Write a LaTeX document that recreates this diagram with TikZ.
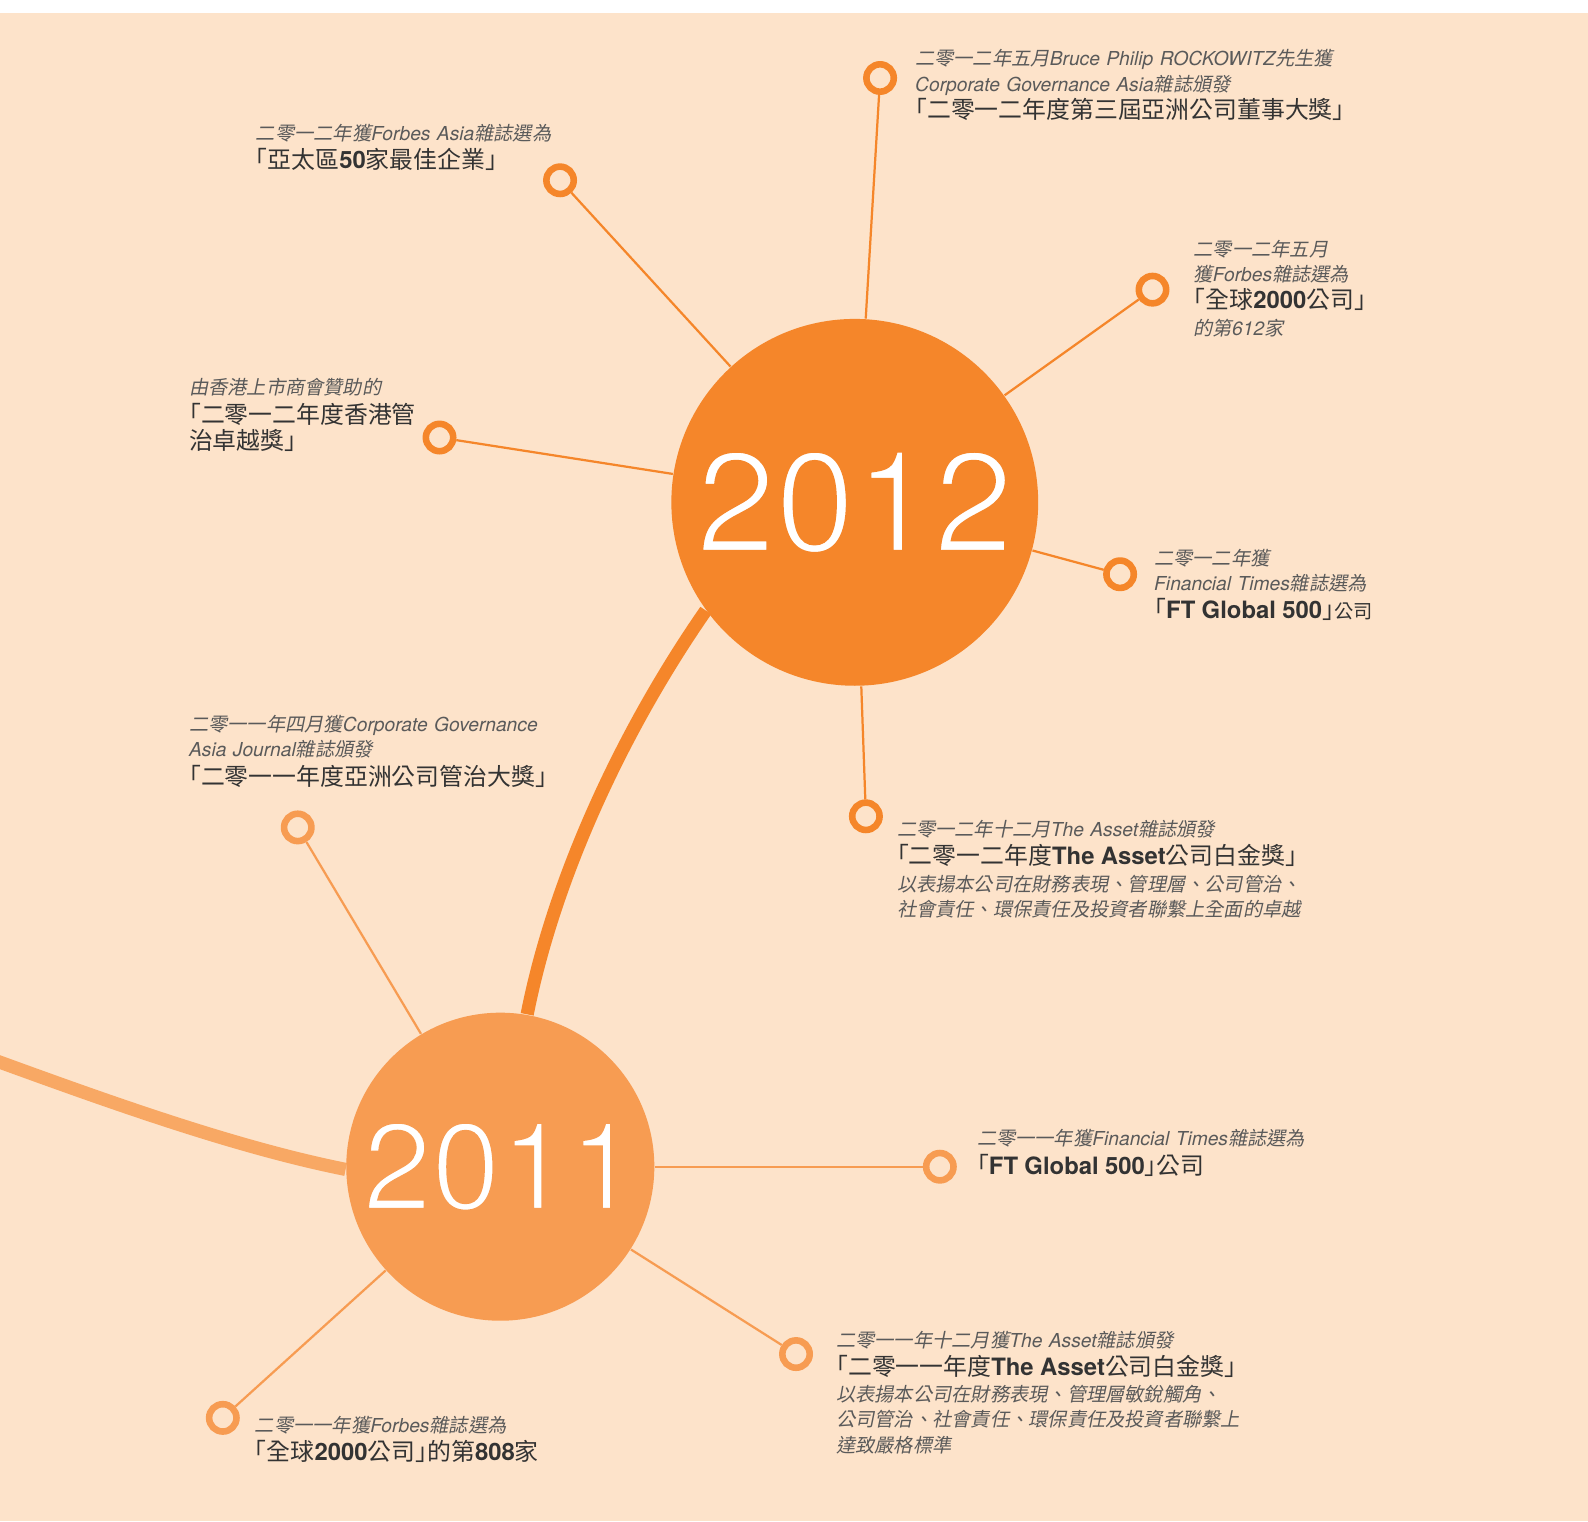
\documentclass[tikz,border=0pt]{standalone}
\usepackage{fontspec}
\setmainfont{Noto Sans CJK TC}[AutoFakeSlant=0.2]
\newfontfamily\latfont{TeX Gyre Heros}
\usetikzlibrary{positioning}

\definecolor{mypeach}{HTML}{FDE3CA}
\definecolor{myorange}{HTML}{F5862A}
\definecolor{mylightorange}{HTML}{F79C52}
\definecolor{mypaleorange}{HTML}{F8A864}
\definecolor{mydarkgray}{HTML}{333333}
\definecolor{mygray}{HTML}{5A5A5A}

\newcommand{\la}[1]{{\latfont #1}}
\newcommand{\lb}[1]{{\latfont\bfseries #1}}
\newcommand{\awsub}[1]{{\itshape\color{mygray}#1}}
\newcommand{\awbig}[1]{{\fontsize{6.7pt}{7.11pt}\selectfont\addfontfeature{RawFeature=+halt}#1}}
% thin white figures: fill, then stroke the outline in the circle colour
\newcommand{\thinfig}[3]{\special{pdf:literal direct 2 Tr #1 w #2 RG}#3\special{pdf:literal direct 0 Tr}}

\pgfdeclarelayer{back}
\pgfsetlayers{back,main}

\tikzset{
  year/.style={circle, inner sep=0pt, text=white},
  ring/.style={circle, draw=#1, fill=mypeach, line width=0.065cm, minimum size=0.27cm, inner sep=0pt},
  spoke/.style={#1, line width=0.022cm},
  award/.style={anchor=base west, text width=6cm, align=left, inner sep=0pt, text=mydarkgray, font=\fontsize{5.4pt}{7.11pt}\selectfont},
}

\begin{document}
\begin{tikzpicture}[x=0.01cm, y=-0.01cm]
\useasboundingbox (0,0) rectangle (1568,1502);

% YEARS
\node[year, fill=myorange, minimum size=3.62cm, font=\latfont\fontsize{40pt}{40pt}\selectfont] (y12) at (844,496) {\thinfig{1.1}{0.961 0.525 0.165}{2012}};
\node[year, fill=mylightorange, minimum size=3.04cm, font=\latfont\fontsize{34.7pt}{35pt}\selectfont] (y11) at (494,1152) {\thinfig{1.0}{0.969 0.612 0.322}{2011}};

% RINGS (2012)
\node[ring=myorange] (r12a) at (869,77) {};
\node[ring=myorange] (r12b) at (553,178) {};
\node[ring=myorange] (r12c) at (1138,286) {};
\node[ring=myorange] (r12d) at (434,432) {};
\node[ring=myorange] (r12e) at (1106,567) {};
\node[ring=myorange] (r12f) at (855,806) {};

% RINGS (2011)
\node[ring=mylightorange] (r11a) at (294,817) {};
\node[ring=mylightorange] (r11b) at (928,1152) {};
\node[ring=mylightorange] (r11c) at (786,1337) {};
\node[ring=mylightorange] (r11d) at (220,1400) {};

% AWARDS (2012)
\node[award] (a12a) at (903,65) {\awsub{二零一二年五月\la{Bruce Philip ROCKOWITZ}先生獲}\\
  \awsub{\la{Corporate Governance Asia}雜誌頒發}\\[0.57pt]
  \awbig{「二零一二年度第三屆亞洲公司董事大獎」}};
\node[award] (a12b) at (252,139) {\awsub{二零一二年獲\la{Forbes Asia}雜誌選為}\\[0.57pt]
  \awbig{「亞太區\lb{50}家最佳企業」}};
\node[award] (a12c) at (1178,253) {\awsub{二零一二年五月}\\
  \awsub{獲\la{Forbes}雜誌選為}\\[0.57pt]
  \awbig{「全球\lb{2000}公司」}\\[0.28pt]
  \awsub{的第\la{612}家}};
\node[award] (a12d) at (186,390) {\awsub{由香港上市商會贊助的}\\[0.85pt]
  \awbig{「二零一二年度香港管}\\[0.28pt]
  \awbig{治卓越獎」}};
\node[award] (a12e) at (1139,558) {\awsub{二零一二年獲}\\
  \awsub{\la{Financial Times}雜誌選為}\\[0.85pt]
  \awbig{「\lb{FT Global 500}」}公司};
\node[award] (a12f) at (885,826) {\awsub{二零一二年十二月\la{The Asset}雜誌頒發}\\[0.85pt]
  \awbig{「二零一二年度\lb{The Asset}公司白金獎」}\\[0.28pt]
  \awsub{以表揚本公司在財務表現、管理層、公司管治、}\\
  \awsub{社會責任、環保責任及投資者聯繫上全面的卓越}};

% AWARDS (2011)
\node[award] (a11a) at (186,722) {\awsub{二零一一年四月獲\la{Corporate Governance}}\\
  \awsub{\la{Asia Journal}雜誌頒發}\\[1.14pt]
  \awbig{「二零一一年度亞洲公司管治大獎」}};
\node[award] (a11b) at (964,1131) {\awsub{二零一一年獲\la{Financial Times}雜誌選為}\\[1.14pt]
  \awbig{「\lb{FT Global 500}」公司}};
\node[award] (a11c) at (825,1331) {\awsub{二零一一年十二月獲\la{The Asset}雜誌頒發}\\[0.57pt]
  \awbig{「二零一一年度\lb{The Asset}公司白金獎」}\\[0.28pt]
  \awsub{以表揚本公司在財務表現、管理層敏銳觸角、}\\
  \awsub{公司管治、社會責任、環保責任及投資者聯繫上}\\
  \awsub{達致嚴格標準}};
\node[award] (a11d) at (251,1414) {\awsub{二零一一年獲\la{Forbes}雜誌選為}\\[0.85pt]
  \awbig{「全球\lb{2000}公司」的第\lb{808}家}};

\begin{pgfonlayer}{back}
% BACKGROUND
\fill[mypeach] (0,12.8) rectangle (1568,1502);

% TIMELINE
\coordinate (past) at (-5,1047);
\draw[mypaleorange, line width=0.13cm] (past) .. controls +(110,40) and +(-110,-22) .. (y11.181);
\draw[myorange, line width=0.13cm] (y12.216) .. controls +(-80,115) and +(27,-137) .. (y11.80);

% SPOKES
\foreach \r in {a,b,c,d,e,f} {
  \draw[spoke=myorange] (y12) -- (r12\r);
}
\foreach \r in {a,b,c,d} {
  \draw[spoke=mylightorange] (y11) -- (r11\r);
}
\end{pgfonlayer}

\end{tikzpicture}
\end{document}
